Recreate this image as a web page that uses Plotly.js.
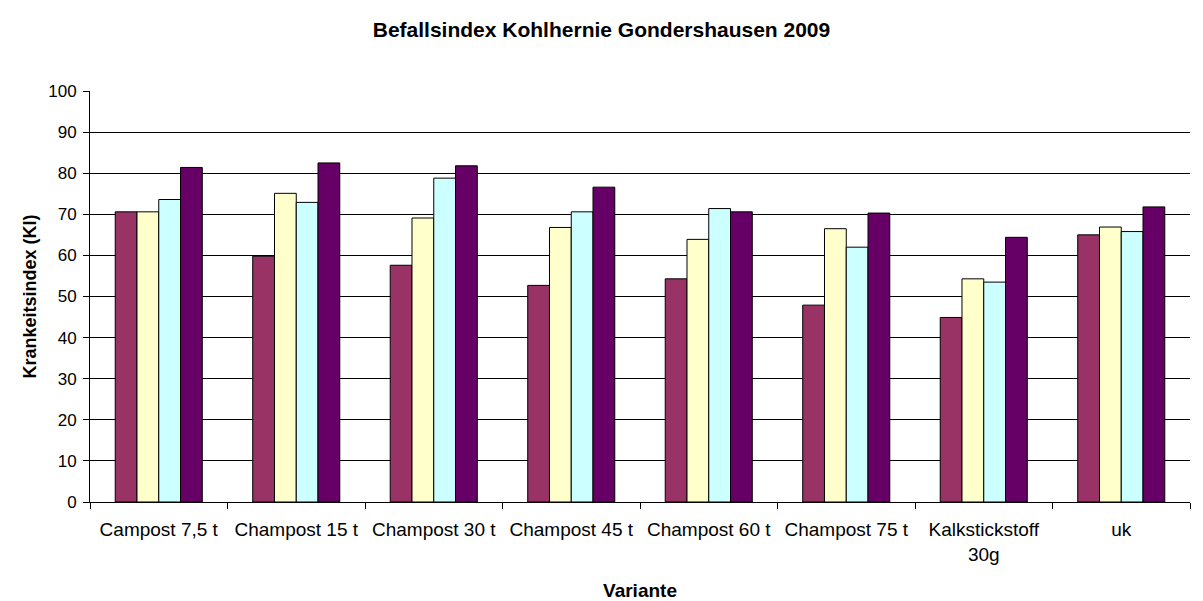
<!DOCTYPE html>
<html>
<head>
<meta charset="utf-8">
<script src="https://cdn.plot.ly/plotly-3.0.1.min.js"></script>
<style>html,body{margin:0;padding:0;background:#fff;}#chart{width:1203px;height:601px;}</style>
</head>
<body>
<div id="chart"></div>
<script>
const categories = ["Campost 7,5 t", "Champost 15 t", "Champost 30 t", "Champost 45 t", "Champost 60 t", "Champost 75 t", "Kalkstickstoff<br>30g", "uk"];
const series1 = [70.6, 59.8, 57.6, 52.7, 54.3, 47.9, 44.9, 65.0];
const series2 = [70.6, 75.1, 69.1, 66.8, 63.9, 66.5, 54.3, 66.9];
const series3 = [73.6, 72.9, 78.8, 70.6, 71.4, 62.0, 53.5, 65.8];
const series4 = [81.4, 82.5, 81.8, 76.6, 70.6, 70.3, 64.4, 71.8];
const colors = ["#993366", "#FFFFCC", "#CCFFFF", "#660066"];
const allSeries = [series1, series2, series3, series4];

const traces = allSeries.map((s, i) => ({
  type: "bar",
  x: categories,
  y: s,
  marker: {color: colors[i], line: {color: "#000", width: 1}},
  hoverinfo: "y"
}));

const layout = {
  width: 1203, height: 601,
  margin: {l: 90, r: 13, t: 91, b: 99},
  paper_bgcolor: "#fff", plot_bgcolor: "#fff",
  font: {family: "Liberation Sans, Arial, sans-serif", size: 16, color: "#000"},
  title: {text: "<b>Befallsindex Kohlhernie Gondershausen 2009</b>", x: 0.5, xanchor: "center", y: 0.95, yanchor: "middle", font: {size: 21}},
  showlegend: false,
  barmode: "group",
  bargap: 0.367,
  bargroupgap: 0,
  xaxis: {
    title: {text: "<b>Variante</b>", standoff: 22, font: {size: 19}},
    showline: true, linecolor: "#000", linewidth: 1,
    ticks: "outside", ticklen: 6, tickcolor: "#000", tickson: "boundaries",
    ticklabelstandoff: 10, tickangle: 0,
    showgrid: false, tickfont: {size: 19}
  },
  yaxis: {
    title: {text: "<b>Krankeitsindex (KI)</b>", standoff: 6, font: {size: 18}},
    range: [0, 100], dtick: 10,
    showline: true, linecolor: "#000", linewidth: 1,
    ticks: "outside", ticklen: 6, tickcolor: "#000",
    ticklabelstandoff: 3,
    showgrid: true, gridcolor: "#000", gridwidth: 1,
    zeroline: false, tickfont: {size: 17}
  }
};

Plotly.newPlot("chart", traces, layout, {displayModeBar: false, staticPlot: true});
</script>
</body>
</html>
